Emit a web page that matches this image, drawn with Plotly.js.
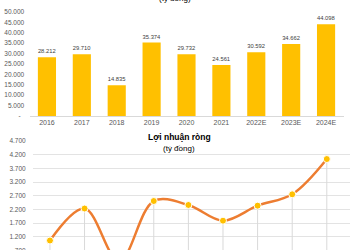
<!DOCTYPE html>
<html><head><meta charset="utf-8">
<script src="https://cdn.plot.ly/plotly-3.0.1.min.js"></script>
<style>
html,body{margin:0;padding:0;overflow:hidden;background:#fff;width:350px;height:250px}
#chart{position:absolute;left:0;top:-15px;width:350px;height:300px}
</style>
</head><body><div id="chart"></div>
<script>
const years = ['2016','2017','2018','2019','2020','2021','2022E','2023E','2024E'];
const revenue = [28212, 29710, 14835, 35374, 29732, 24561, 30592, 34662, 44098];
const netProfit = [1060, 2230, 300, 2505, 2360, 1785, 2335, 2750, 4040];
const revTicks = [0, 5000, 10000, 15000, 20000, 25000, 30000, 35000, 40000, 45000, 50000];
const profitTicks = [200, 700, 1200, 1700, 2200, 2700, 3200, 3700, 4200, 4700];
const topTitle = 'Doanh thu thuần';
const bottomTitle = 'Lợi nhuận ròng';
const unitLabel = '(tỷ đồng)';

function fmt(v){ return v === 0 ? '-\u00a0\u00a0' : String(v).replace(/\B(?=(\d{3})+(?!\d))/g, '.'); }

const FONT = 'Liberation Sans, Arial, sans-serif';
const H = 300;
const fy = px => 1 - px / H;

const traces = [
  {
    type: 'bar', x: years, y: revenue, xaxis: 'x', yaxis: 'y',
    marker: {color: '#FFC000'},
    texttemplate: '%{y:,}', textposition: 'outside', cliponaxis: false,
    textfont: {size: 6.5, color: '#404040', family: FONT},
    hoverinfo: 'skip'
  },
  {
    type: 'scatter', mode: 'lines+markers', x: years, y: netProfit, xaxis: 'x2', yaxis: 'y2',
    line: {color: '#ED7D31', width: 2.5, shape: 'spline', smoothing: 1},
    marker: {color: '#FFC000', size: 7, line: {color: '#ffffff', width: 1}},
    error_y: {type: 'percent', symmetric: false, value: 0, valueminus: 100, width: 0, thickness: 1, color: '#d9d9d9'},
    cliponaxis: true,
    hoverinfo: 'skip'
  }
];

const layout = {
  width: 350, height: H,
  margin: {l: 0, r: 0, t: 0, b: 0},
  paper_bgcolor: '#ffffff', plot_bgcolor: '#ffffff',
  separators: ',.',
  showlegend: false,
  bargap: 0.48,
  font: {family: FONT, color: '#595959'},
  xaxis: {
    domain: [29.5/350, 343.5/350], range: [-0.5, 8.5], type: 'category',
    showgrid: false, zeroline: false, showline: true, linecolor: '#d9d9d9', linewidth: 1,
    ticks: '', tickfont: {size: 7, color: '#595959'}, anchor: 'y'
  },
  yaxis: {
    domain: [fy(131), fy(27)], range: [0, 50000],
    tickmode: 'array', tickvals: revTicks, ticktext: revTicks.map(fmt),
    showgrid: false, zeroline: false, showline: false,
    ticks: 'outside', ticklen: 3, tickcolor: 'rgba(0,0,0,0)',
    tickfont: {size: 6.5, color: '#595959'}, anchor: 'x'
  },
  xaxis2: {
    domain: [33/350, 1], range: [-0.49, 8.67], type: 'category',
    showgrid: false, zeroline: false, showline: false, showticklabels: false, ticks: '', anchor: 'y2'
  },
  yaxis2: {
    domain: [fy(284.5), fy(156)], range: [0, 4700],
    tickmode: 'array', tickvals: profitTicks, ticktext: profitTicks.map(fmt),
    showgrid: true, gridcolor: '#e3e3e3', gridwidth: 1, zeroline: false, showline: false,
    ticks: 'outside', ticklen: 5, tickcolor: 'rgba(0,0,0,0)',
    tickfont: {size: 6.5, color: '#595959'}, anchor: 'x2'
  },
  annotations: [
    {text: '<b>' + topTitle + '</b>', xref: 'paper', yref: 'paper', x: 175/350, y: fy(3), xanchor: 'center', yanchor: 'middle', showarrow: false, font: {size: 8.5, color: '#000000'}},
    {text: unitLabel, xref: 'paper', yref: 'paper', x: 175/350, y: fy(14), xanchor: 'center', yanchor: 'middle', showarrow: false, font: {size: 8, color: '#000000'}},
    {text: '<b>' + bottomTitle + '</b>', xref: 'paper', yref: 'paper', x: 179/350, y: fy(152), xanchor: 'center', yanchor: 'middle', showarrow: false, font: {size: 8.5, color: '#000000'}},
    {text: unitLabel, xref: 'paper', yref: 'paper', x: 179/350, y: fy(163), xanchor: 'center', yanchor: 'middle', showarrow: false, font: {size: 8, color: '#000000'}}
  ]
};

Plotly.newPlot('chart', traces, layout, {staticPlot: true, displayModeBar: false});
</script>
</body></html>
